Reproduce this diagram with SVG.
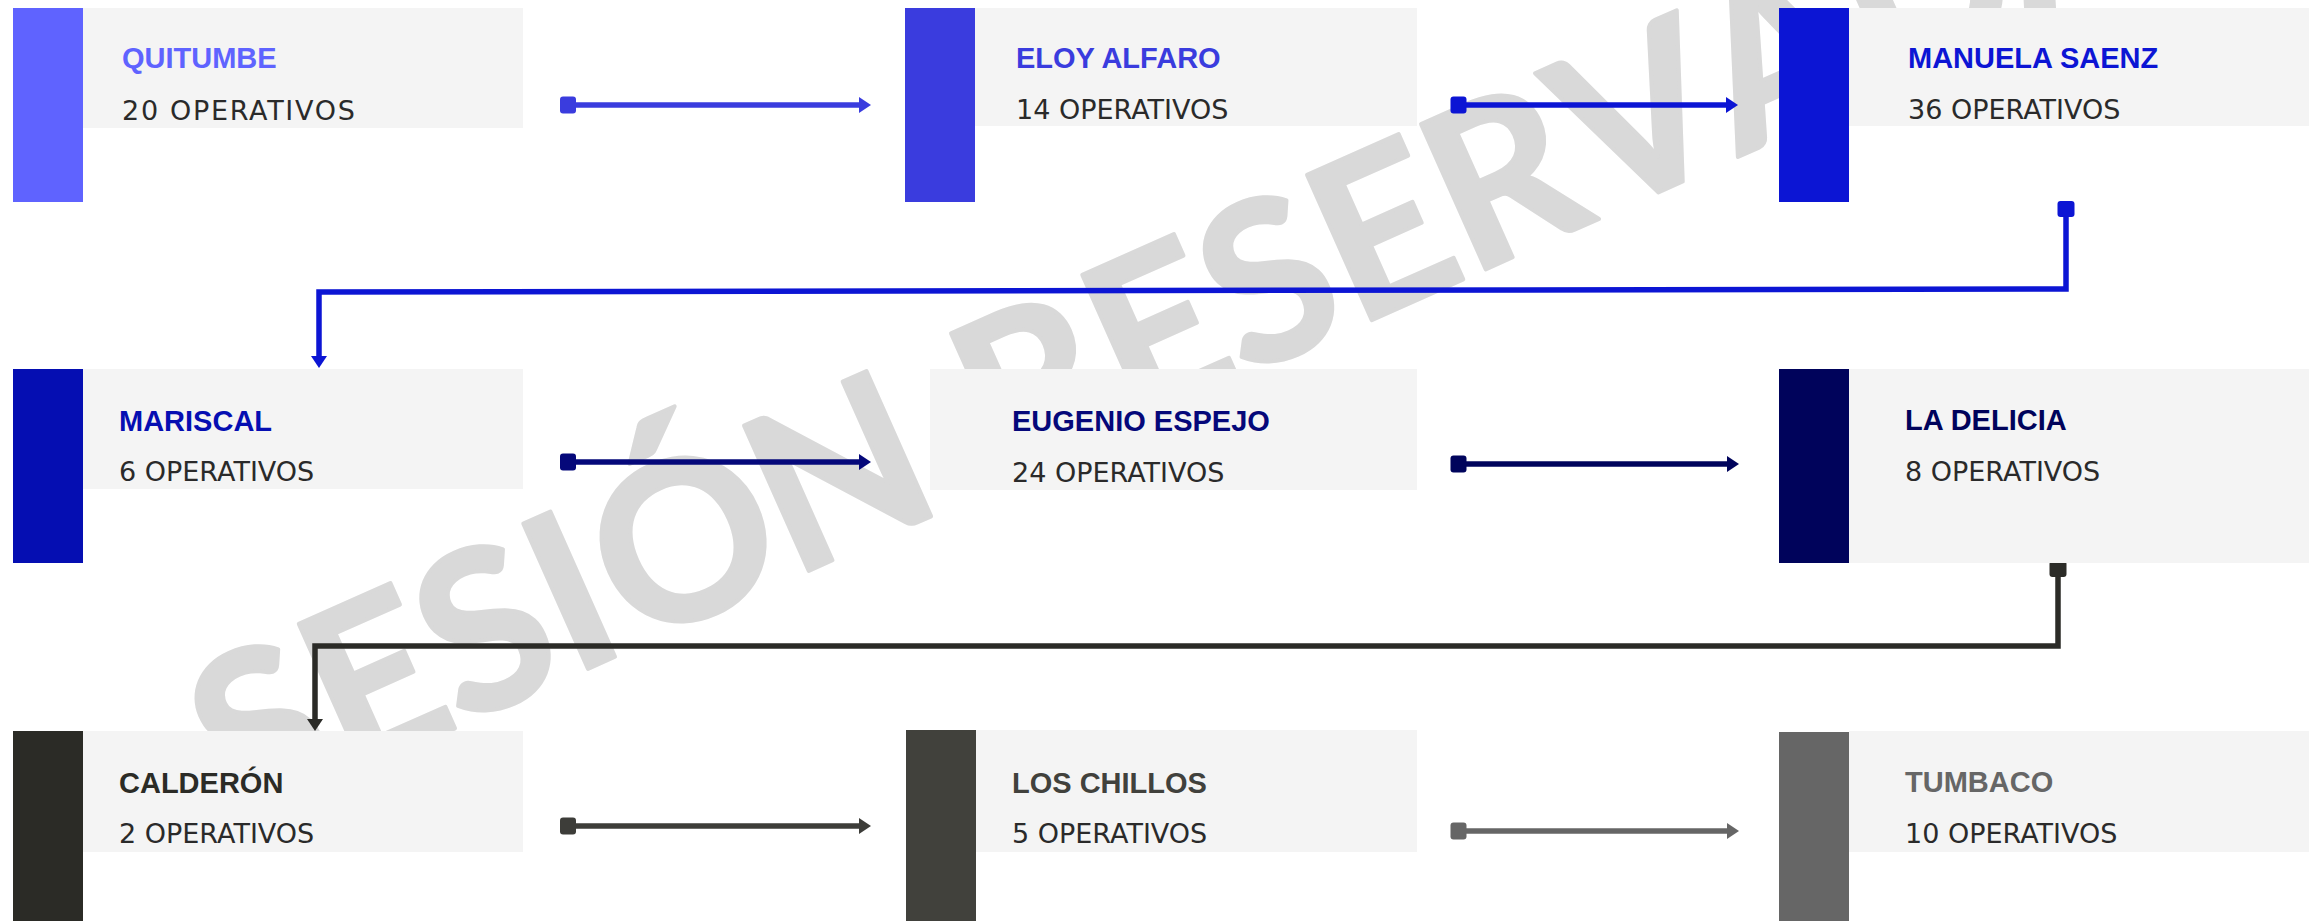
<svg xmlns="http://www.w3.org/2000/svg" width="2318" height="921" viewBox="0 0 2318 921">
<defs>
<style>
.box{fill:#f4f4f4}
.title{font-family:"Liberation Sans",Arial,sans-serif;font-weight:700;font-size:29px}
.sub{font-family:"DejaVu Sans",Verdana,sans-serif;font-size:27px;fill:#2a2a2a}
.conn{fill:none;stroke-width:5.5}
.wm{font-family:Lato,"Open Sans",sans-serif;font-weight:700;font-size:220px;fill:#d9d9d9;stroke:#d9d9d9;stroke-width:4;stroke-linejoin:round}
</style>
<marker id="s1" markerUnits="userSpaceOnUse" markerWidth="20" markerHeight="20" refX="8" refY="8.5" orient="auto" overflow="visible"><rect width="16" height="17" rx="3" fill="#3A3CDE"/></marker>
<marker id="e1" markerUnits="userSpaceOnUse" markerWidth="20" markerHeight="20" refX="2" refY="8" orient="auto" overflow="visible"><path d="M0,0 L12,8 L0,16 z" fill="#3A3CDE"/></marker>
<marker id="s2" markerUnits="userSpaceOnUse" markerWidth="20" markerHeight="20" refX="8" refY="8.5" orient="auto" overflow="visible"><rect width="16" height="17" rx="3" fill="#0C15D4"/></marker>
<marker id="e2" markerUnits="userSpaceOnUse" markerWidth="20" markerHeight="20" refX="2" refY="8" orient="auto" overflow="visible"><path d="M0,0 L12,8 L0,16 z" fill="#0C15D4"/></marker>
<marker id="s3" markerUnits="userSpaceOnUse" markerWidth="20" markerHeight="20" refX="8" refY="8.5" orient="auto" overflow="visible"><rect width="16" height="17" rx="3" fill="#05087A"/></marker>
<marker id="e3" markerUnits="userSpaceOnUse" markerWidth="20" markerHeight="20" refX="2" refY="8" orient="auto" overflow="visible"><path d="M0,0 L12,8 L0,16 z" fill="#05087A"/></marker>
<marker id="s4" markerUnits="userSpaceOnUse" markerWidth="20" markerHeight="20" refX="8" refY="8.5" orient="auto" overflow="visible"><rect width="16" height="17" rx="3" fill="#00045C"/></marker>
<marker id="e4" markerUnits="userSpaceOnUse" markerWidth="20" markerHeight="20" refX="2" refY="8" orient="auto" overflow="visible"><path d="M0,0 L12,8 L0,16 z" fill="#00045C"/></marker>
<marker id="s5" markerUnits="userSpaceOnUse" markerWidth="20" markerHeight="20" refX="8" refY="8.5" orient="auto" overflow="visible"><rect width="16" height="17" rx="3" fill="#2B2B27"/></marker>
<marker id="e5" markerUnits="userSpaceOnUse" markerWidth="20" markerHeight="20" refX="2" refY="8" orient="auto" overflow="visible"><path d="M0,0 L12,8 L0,16 z" fill="#2B2B27"/></marker>
<marker id="s6" markerUnits="userSpaceOnUse" markerWidth="20" markerHeight="20" refX="8" refY="8.5" orient="auto" overflow="visible"><rect width="16" height="17" rx="3" fill="#3D3D39"/></marker>
<marker id="e6" markerUnits="userSpaceOnUse" markerWidth="20" markerHeight="20" refX="2" refY="8" orient="auto" overflow="visible"><path d="M0,0 L12,8 L0,16 z" fill="#3D3D39"/></marker>
<marker id="s7" markerUnits="userSpaceOnUse" markerWidth="20" markerHeight="20" refX="8" refY="8.5" orient="auto" overflow="visible"><rect width="16" height="17" rx="3" fill="#666666"/></marker>
<marker id="e7" markerUnits="userSpaceOnUse" markerWidth="20" markerHeight="20" refX="2" refY="8" orient="auto" overflow="visible"><path d="M0,0 L12,8 L0,16 z" fill="#666666"/></marker>
</defs>
<rect width="2318" height="921" fill="#ffffff"/>
<g id="watermark">
<text class="wm" transform="translate(593,670) rotate(-24)" y="-3" x="-388.9 -267.8 -142.9 -21.8 46.6 219.7 388.4 446.3 589.9 714.8 835.9 960.8 1104.4 1255.7 1410.8 1572.1">SESIÓN RESERVADA</text>
</g>
<g id="connectors">
<path class="conn" stroke="#3A3CDE" marker-start="url(#s1)" marker-end="url(#e1)" d="M568,105 H861"/>
<path class="conn" stroke="#0C15D4" marker-start="url(#s2)" marker-end="url(#e2)" d="M1458.5,105 H1728"/>
<path class="conn" stroke="#0C15D4" marker-start="url(#s2)" marker-end="url(#e2)" d="M2066,209 V289 L319,292 V358"/>
<path class="conn" stroke="#05087A" marker-start="url(#s3)" marker-end="url(#e3)" d="M568,462 H861"/>
<path class="conn" stroke="#00045C" marker-start="url(#s4)" marker-end="url(#e4)" d="M1458.5,464 H1729"/>
<path class="conn" stroke="#2B2B27" marker-start="url(#s5)" marker-end="url(#e5)" d="M2058,569 V646 H315 V721"/>
<path class="conn" stroke="#3D3D39" marker-start="url(#s6)" marker-end="url(#e6)" d="M568,826 H861"/>
<path class="conn" stroke="#666666" marker-start="url(#s7)" marker-end="url(#e7)" d="M1458.5,831 H1729"/>
</g>
<g id="node-quitumbe">
<rect x="13" y="8" width="70" height="194" fill="#5F63FF"/>
<rect class="box" x="83" y="8" width="440" height="120"/>
<text class="title" x="122" y="68" fill="#5F63FF">QUITUMBE</text>
<text class="sub" x="122" y="120" letter-spacing="1.7">20 OPERATIVOS</text>
</g>
<g id="node-eloy-alfaro">
<rect x="905" y="8" width="70" height="194" fill="#3A3CDE"/>
<rect class="box" x="975" y="8" width="442" height="118"/>
<text class="title" x="1016" y="68" fill="#3A3CDE">ELOY ALFARO</text>
<text class="sub" x="1016" y="119">14 OPERATIVOS</text>
</g>
<g id="node-manuela-saenz">
<rect x="1779" y="8" width="70" height="194" fill="#0C15D4"/>
<rect class="box" x="1849" y="8" width="460" height="118"/>
<text class="title" x="1908" y="68" fill="#0C15D4">MANUELA SAENZ</text>
<text class="sub" x="1908" y="119">36 OPERATIVOS</text>
</g>
<g id="node-mariscal">
<rect x="13" y="369" width="70" height="194" fill="#050EB2"/>
<rect class="box" x="83" y="369" width="440" height="120"/>
<text class="title" x="119" y="431" fill="#050EB2">MARISCAL</text>
<text class="sub" x="119" y="481">6 OPERATIVOS</text>
</g>
<g id="node-eugenio-espejo">
<rect class="box" x="930" y="369" width="487" height="121"/>
<text class="title" x="1012" y="431" fill="#05087A">EUGENIO ESPEJO</text>
<text class="sub" x="1012" y="482">24 OPERATIVOS</text>
</g>
<g id="node-la-delicia">
<rect x="1779" y="369" width="70" height="194" fill="#00035B"/>
<rect class="box" x="1849" y="369" width="460" height="194"/>
<text class="title" x="1905" y="430" fill="#00035B">LA DELICIA</text>
<text class="sub" x="1905" y="481">8 OPERATIVOS</text>
</g>
<g id="node-calderon">
<rect x="13" y="731" width="70" height="194" fill="#2B2B26"/>
<rect class="box" x="83" y="731" width="440" height="121"/>
<text class="title" x="119" y="793" fill="#2B2B26">CALDERÓN</text>
<text class="sub" x="119" y="843">2 OPERATIVOS</text>
</g>
<g id="node-los-chillos">
<rect x="906" y="730" width="70" height="195" fill="#41413C"/>
<rect class="box" x="976" y="730" width="441" height="122"/>
<text class="title" x="1012" y="793" fill="#41413C">LOS CHILLOS</text>
<text class="sub" x="1012" y="843">5 OPERATIVOS</text>
</g>
<g id="node-tumbaco">
<rect x="1779" y="732" width="70" height="193" fill="#666666"/>
<rect class="box" x="1849" y="731" width="460" height="121"/>
<text class="title" x="1905" y="792" fill="#666666">TUMBACO</text>
<text class="sub" x="1905" y="843">10 OPERATIVOS</text>
</g>
</svg>
